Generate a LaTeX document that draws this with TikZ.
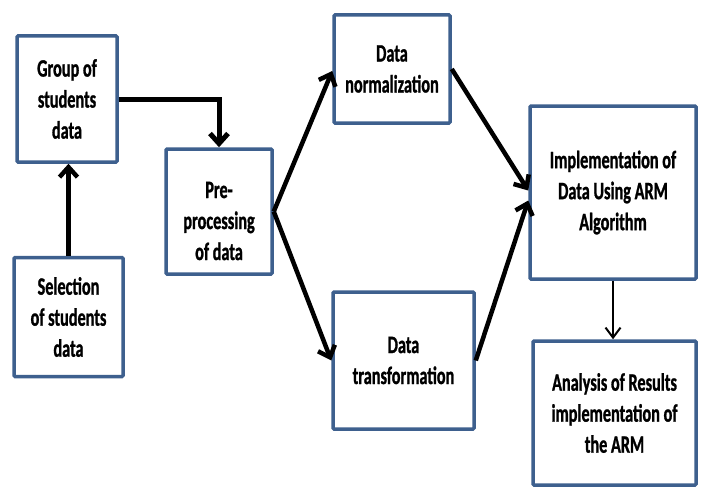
\documentclass[tikz,border=0pt]{standalone}
\usepackage{fontspec}
\newfontfamily\boxfont{Carlito}[FakeStretch=0.65,FakeBold=1]
\usetikzlibrary{arrows.meta}
\definecolor{boxblue}{RGB}{62,96,142}
\tikzset{
  box/.style={draw=boxblue, line width=3.5pt, fill=white, inner sep=0pt,
    rounded corners=1pt, align=center,
    font=\boxfont\bfseries\fontsize{25}{31}\selectfont},
  txt/.style={inner sep=0pt, align=center,
    font=\boxfont\bfseries\fontsize{25}{31}\selectfont},
  thickarrow/.style={draw=black, line width=4.5pt,
    -{Straight Barb[length=10pt,width=18pt]}},
  thinarrow/.style={draw=black, line width=2pt,
    -{Straight Barb[length=10pt,width=15pt]}}
}
\begin{document}
\begin{tikzpicture}[x=1pt,y=-1pt]
\useasboundingbox (0,0) rectangle (701,495);
\node[box, minimum width=100pt, minimum height=126pt] (group) at (67,99) {Group of\\students\\data};
\node[box, minimum width=109pt, minimum height=119pt] (sel) at (68.5,317) {Selection\\of students\\data};
\node[box, minimum width=106pt, minimum height=125pt] (pre) at (219,211.5) {};
\node[txt] (pretext) at (219,221) {Pre-\\processing\\of data};
\node[box, minimum width=116pt, minimum height=108pt] (norm) at (392,69) {Data\\normalization};
\node[box, minimum width=141pt, minimum height=137pt] (trans) at (403.5,360.5) {Data\\transformation};
\node[box, minimum width=166pt, minimum height=173pt] (impl) at (613,192.5) {Implementation of\\Data Using ARM\\Algorithm};
\node[box, minimum width=163pt, minimum height=144pt] (ana) at (614.5,413) {Analysis of Results\\implementation of\\the ARM};

\draw[thickarrow] (sel.north) -- (sel.north |- group.south);
\draw[thickarrow, line width=5pt] (group.east) -| (pre.north);
\draw[thickarrow] (pre.east) -- ([yshift=-2pt]norm.west);
\draw[thickarrow] (pre.east) -- (trans.west);
\draw[thickarrow] (norm.east) -- ([yshift=2pt]impl.west);
\draw[thickarrow] (trans.east) -- ([yshift=-8pt]impl.west);
\draw[thinarrow] (impl.south) -- (impl.south |- ana.north);
\end{tikzpicture}
\end{document}
